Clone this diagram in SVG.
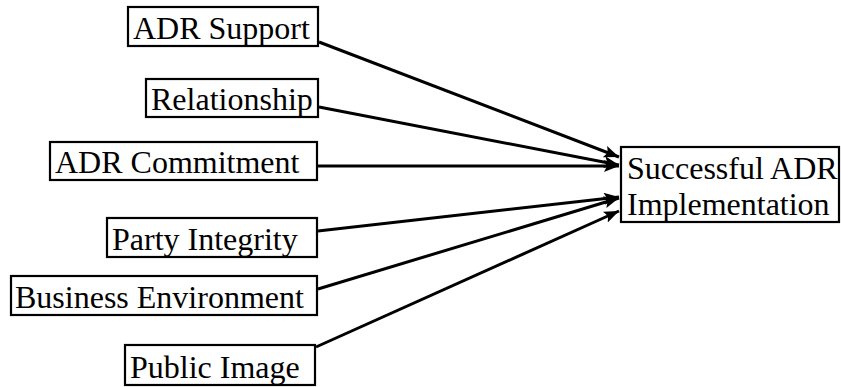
<svg xmlns="http://www.w3.org/2000/svg" width="841" height="387" viewBox="0 0 841 387">
<style>
.box{fill:#fff;stroke:#000;stroke-width:2.2}
.lbl{font-family:"Liberation Serif","Times New Roman",serif;font-size:32px;fill:#000}
.edge{stroke:#000;stroke-width:3;fill:none;marker-end:url(#ah)}
</style>
<defs>
<marker id="ah" markerUnits="userSpaceOnUse" markerWidth="16" markerHeight="13" refX="15" refY="6" orient="auto">
<path d="M0,0 L15,6 L0,12 L3,6 z" fill="#000"/>
</marker>
</defs>
<rect width="841" height="387" fill="#fff"/>
<g id="connectors">
<line class="edge" x1="319" y1="42" x2="619" y2="157"/>
<line class="edge" x1="319" y1="107" x2="619" y2="165"/>
<line class="edge" x1="318" y1="166" x2="619" y2="166"/>
<line class="edge" x1="318" y1="231" x2="619" y2="197"/>
<line class="edge" x1="318" y1="289" x2="619" y2="198"/>
<line class="edge" x1="316" y1="347" x2="619" y2="211"/>
</g>
<g id="adr-support">
<rect class="box" x="128" y="7" width="190" height="39"/>
<text class="lbl" x="133" y="39">ADR Support</text>
</g>
<g id="relationship">
<rect class="box" x="146" y="79" width="172" height="38"/>
<text class="lbl" x="151" y="110">Relationship</text>
</g>
<g id="adr-commitment">
<rect class="box" x="50" y="142" width="267" height="38"/>
<text class="lbl" x="55" y="173">ADR Commitment</text>
</g>
<g id="party-integrity">
<rect class="box" x="107" y="218" width="210" height="39"/>
<text class="lbl" x="112" y="250">Party Integrity</text>
</g>
<g id="business-environment">
<rect class="box" x="11" y="276" width="306" height="39"/>
<text class="lbl" x="15" y="308">Business Environment</text>
</g>
<g id="public-image">
<rect class="box" x="125" y="345" width="190" height="40"/>
<text class="lbl" x="130" y="378">Public Image</text>
</g>
<g id="successful-adr-implementation">
<rect class="box" x="621" y="147" width="218" height="75"/>
<text class="lbl" x="627" y="179">Successful ADR</text>
<text class="lbl" x="627" y="215">Implementation</text>
</g>
</svg>
